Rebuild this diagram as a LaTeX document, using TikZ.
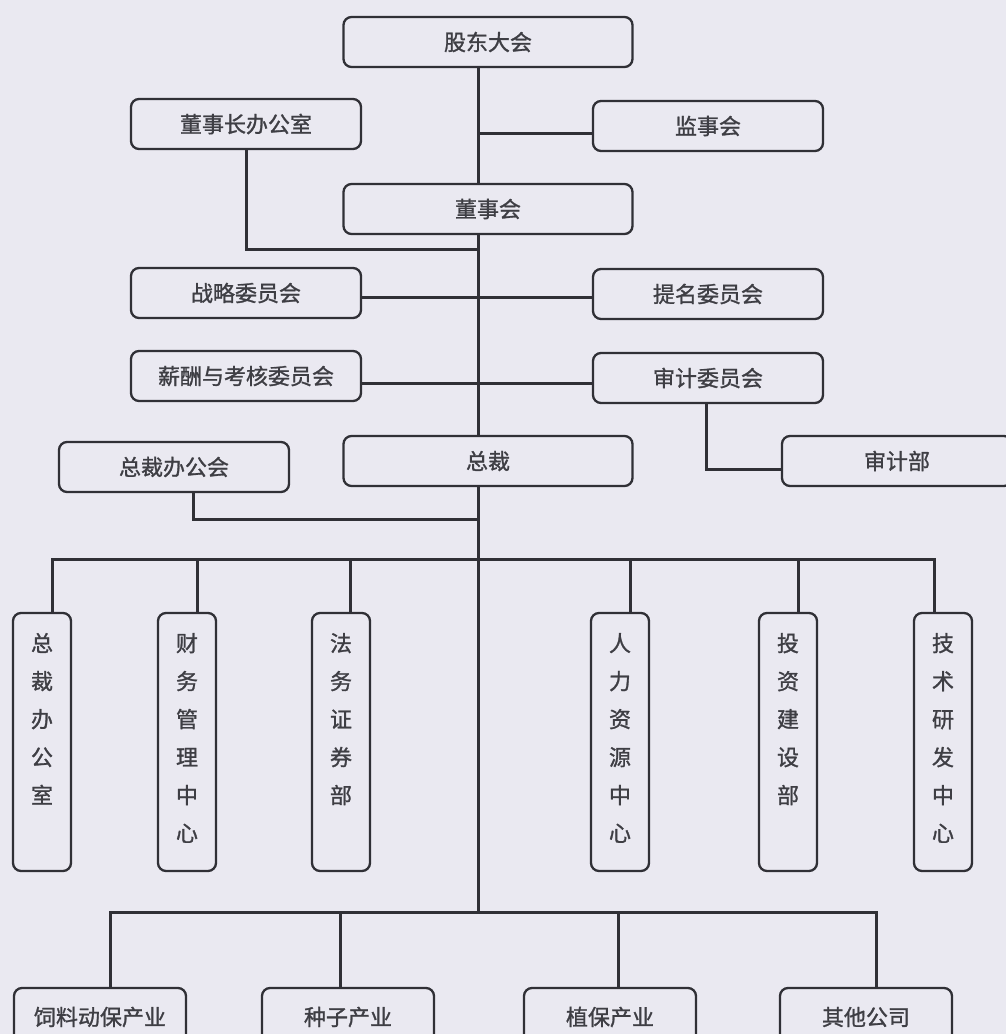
\documentclass[tikz,border=0pt]{standalone}
\usepackage{fontspec}
\setmainfont{Noto Sans CJK SC}[FakeBold=1.2]
\usepackage{tikz}
\definecolor{bgc}{RGB}{234,233,241}
\definecolor{linec}{RGB}{48,48,54}
\definecolor{txtc}{RGB}{62,62,68}
\newcommand{\vlabel}[1]{\parbox[c][218pt][t]{40pt}{\centering\baselineskip=38pt #1\par}}

\begin{document}
\begin{tikzpicture}[x=1pt,y=-1pt,
  box/.style={draw=linec,line width=2.3pt,rounded corners=8pt,fill=bgc,inner sep=0pt,
    minimum height=50pt,text=txtc,font=\fontsize{22}{26}\selectfont},
  wbox/.style={box,minimum width=289pt},
  sbox/.style={box,minimum width=230pt},
  vbox/.style={box,minimum width=58pt,minimum height=258pt},
  ibox/.style={box,minimum width=172pt,minimum height=58pt},
  link/.style={draw=linec,line width=3pt}]

  \fill[bgc] (0,0) rectangle (1006,1034);
  \useasboundingbox (0,0) rectangle (1006,1034);

  % main line
  \foreach \n/\x/\y/\txt in {
    gd/488/42/股东大会,
    dsh/488/209/董事会,
    zc/488/461/总裁
  } { \node[wbox] (\n) at (\x,\y) {\txt}; }

  % side boxes
  \foreach \n/\x/\y/\txt in {
    dszb/246/124/董事长办公室,
    jsh/708/126/监事会,
    zlwy/246/293/战略委员会,
    tmwy/708/294/提名委员会,
    xcwy/246/376/薪酬与考核委员会,
    sjwy/708/378/审计委员会,
    zbh/174/467/总裁办公会,
    sjb/897/461/审计部
  } { \node[sbox] (\n) at (\x,\y) {\txt}; }

  % departments
  \foreach \n/\x/\txt in {
    zcbgs/42/{总\\裁\\办\\公\\室},
    cwgl/187/{财\\务\\管\\理\\中\\心},
    fwzq/341/{法\\务\\证\\券\\部},
    rlzy/620/{人\\力\\资\\源\\中\\心},
    tzjs/788/{投\\资\\建\\设\\部},
    jsyf/943/{技\\术\\研\\发\\中\\心}
  } { \node[vbox] (\n) at (\x,742) {\vlabel{\txt}}; }

  % industries
  \foreach \n/\x/\txt in {
    slds/100/饲料动保产业,
    zzcy/348/种子产业,
    zbcy/610/植保产业,
    qtgs/866/其他公司
  } { \node[ibox] (\n) at (\x,1017) {\txt}; }

  \coordinate (j1) at (478,249);
  \coordinate (j2) at (478,519);
  \coordinate (b1) at (478,559);
  \coordinate (b2) at (478,912);

  % trunk
  \draw[link] ([xshift=-10pt]gd.south) -- ([xshift=-10pt]dsh.north);
  \draw[link] ([xshift=-10pt]dsh.south) -- ([xshift=-10pt]zc.north);
  \draw[link] ([xshift=-10pt]zc.south) -- (b2);

  % branches
  \draw[link] ([yshift=-7pt]jsh.west) -| ([xshift=-10pt]gd.south);
  \draw[link] (dszb.south) |- (j1);
  \draw[link] ([yshift=-4pt]zlwy.east) -- ([yshift=-3pt]tmwy.west);
  \draw[link] ([yshift=-7pt]xcwy.east) -- ([yshift=-5pt]sjwy.west);
  \draw[link] ([xshift=-2pt]sjwy.south) |- ([yshift=-8pt]sjb.west);
  \draw[link] ([xshift=19pt]zbh.south) |- (j2);

  % departments
  \foreach \n/\s in {zcbgs/10, cwgl/10, fwzq/9, rlzy/10, tzjs/10, jsyf/-9}
    { \draw[link] (b1) -| ([xshift=\s pt]\n.north); }

  % industries
  \foreach \n/\s in {slds/10, zzcy/-8, zbcy/8, qtgs/10}
    { \draw[link] (b2) -| ([xshift=\s pt]\n.north); }
\end{tikzpicture}
\end{document}
